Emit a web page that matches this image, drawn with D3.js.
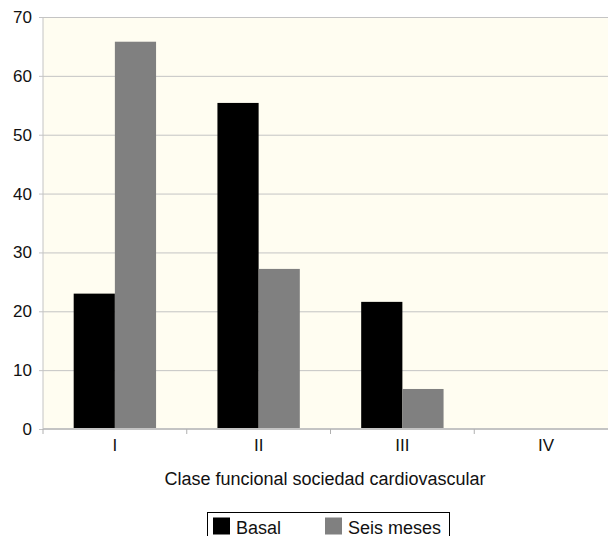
<!DOCTYPE html>
<html>
<head>
<meta charset="utf-8">
<script src="https://cdn.jsdelivr.net/npm/d3@7"></script>
<style>
  body { margin: 0; background: #fff; }
  text { font-family: "Liberation Sans", Arial, sans-serif; fill: #111; }
</style>
</head>
<body>
<div id="chart"></div>
<script>
// *** Data
var categories = ["I", "II", "III", "IV"];
var seriesNames = ["Basal", "Seis meses"];
var basal = [23.0, 55.4, 21.6, 0];
var seisMeses = [65.8, 27.2, 6.8, 0];
var yTicks = [0, 10, 20, 30, 40, 50, 60, 70];

var colors = ["#000000", "#808080"];

var margin = {top: 17, right: -10, bottom: 107, left: 43},
    width = 608 - margin.left - margin.right,
    height = 536 - margin.top - margin.bottom;

var svg = d3.select("#chart").append("svg")
    .attr("width", 608)
    .attr("height", 536);

var g = svg.append("g")
    .attr("transform", "translate(" + margin.left + "," + margin.top + ")");

var x = d3.scaleBand().domain(categories).range([0, width]);
var xInner = d3.scaleBand().domain(seriesNames)
    .range([0, x.bandwidth()]).paddingInner(0).paddingOuter(0.745);
var y = d3.scaleLinear().domain([0, 70]).range([height, 0]);

// plot background
g.append("rect")
    .attr("width", width)
    .attr("height", height)
    .attr("fill", "#fffdf1");

// grid lines + y labels
var yAxis = d3.axisLeft(y).tickValues(yTicks).tickSize(-width - 4).tickPadding(7);
var yg = g.append("g")
    .attr("transform", "translate(-4,0)")
    .call(yAxis);
yg.select(".domain").remove();
yg.selectAll(".tick line").attr("stroke", "#c4c4c4").attr("x1", 0);
yg.selectAll(".tick text")
    .style("font-size", "17px")
    .attr("x", -7);

// left axis line
g.append("line")
    .attr("x1", 0).attr("x2", 0)
    .attr("y1", 0).attr("y2", height)
    .attr("stroke", "#c4c4c4");

// bars
var rows = categories.map(function(c, i) {
    return {cat: c, values: [basal[i], seisMeses[i]]};
});

var groups = g.selectAll(".grp")
    .data(rows)
    .enter().append("g")
    .attr("class", "grp")
    .attr("transform", function(d) { return "translate(" + x(d.cat) + ",0)"; });

groups.selectAll("rect")
    .data(function(d) {
        return d.values.map(function(v, j) { return {name: seriesNames[j], value: v, j: j}; });
    })
    .enter().append("rect")
    .filter(function(d) { return d.value > 0; })
    .attr("x", function(d) { return xInner(d.name); })
    .attr("width", xInner.bandwidth())
    .attr("y", function(d) { return y(d.value); })
    .attr("height", function(d) { return height - y(d.value); })
    .attr("fill", function(d) { return colors[d.j]; });

// x axis
var xg = g.append("g")
    .attr("transform", "translate(0," + height + ")")
    .call(d3.axisBottom(x).tickSize(0).tickPadding(10));
xg.select(".domain").remove();
xg.selectAll(".tick text").style("font-size", "17px");

g.append("line")
    .attr("x1", 0).attr("x2", width)
    .attr("y1", height).attr("y2", height)
    .attr("stroke", "#c4c4c4")
    .attr("stroke-width", 2);

// category boundary ticks
g.selectAll(".sep")
    .data(categories)
    .enter().append("line")
    .attr("class", "sep")
    .attr("x1", function(d) { return x(d); })
    .attr("x2", function(d) { return x(d); })
    .attr("y1", height)
    .attr("y2", height + 5)
    .attr("stroke", "#b0b0b0");

// axis title
svg.append("text")
    .attr("x", 325)
    .attr("y", 485)
    .attr("text-anchor", "middle")
    .style("font-size", "18px")
    .text("Clase funcional sociedad cardiovascular");

// legend
var legend = svg.append("g").attr("transform", "translate(207.5,512.5)");
legend.append("rect")
    .attr("width", 242)
    .attr("height", 40)
    .attr("fill", "#fff")
    .attr("stroke", "#000");

var legendX = [5.5, 117.5];
var items = legend.selectAll(".item")
    .data(seriesNames)
    .enter().append("g")
    .attr("class", "item")
    .attr("transform", function(d, i) { return "translate(" + legendX[i] + ",5)"; });
items.append("rect")
    .attr("width", 17)
    .attr("height", 17)
    .attr("fill", function(d, i) { return colors[i]; });
items.append("text")
    .attr("x", 23)
    .attr("y", 16)
    .style("font-size", "18px")
    .text(function(d) { return d; });
</script>
</body>
</html>
